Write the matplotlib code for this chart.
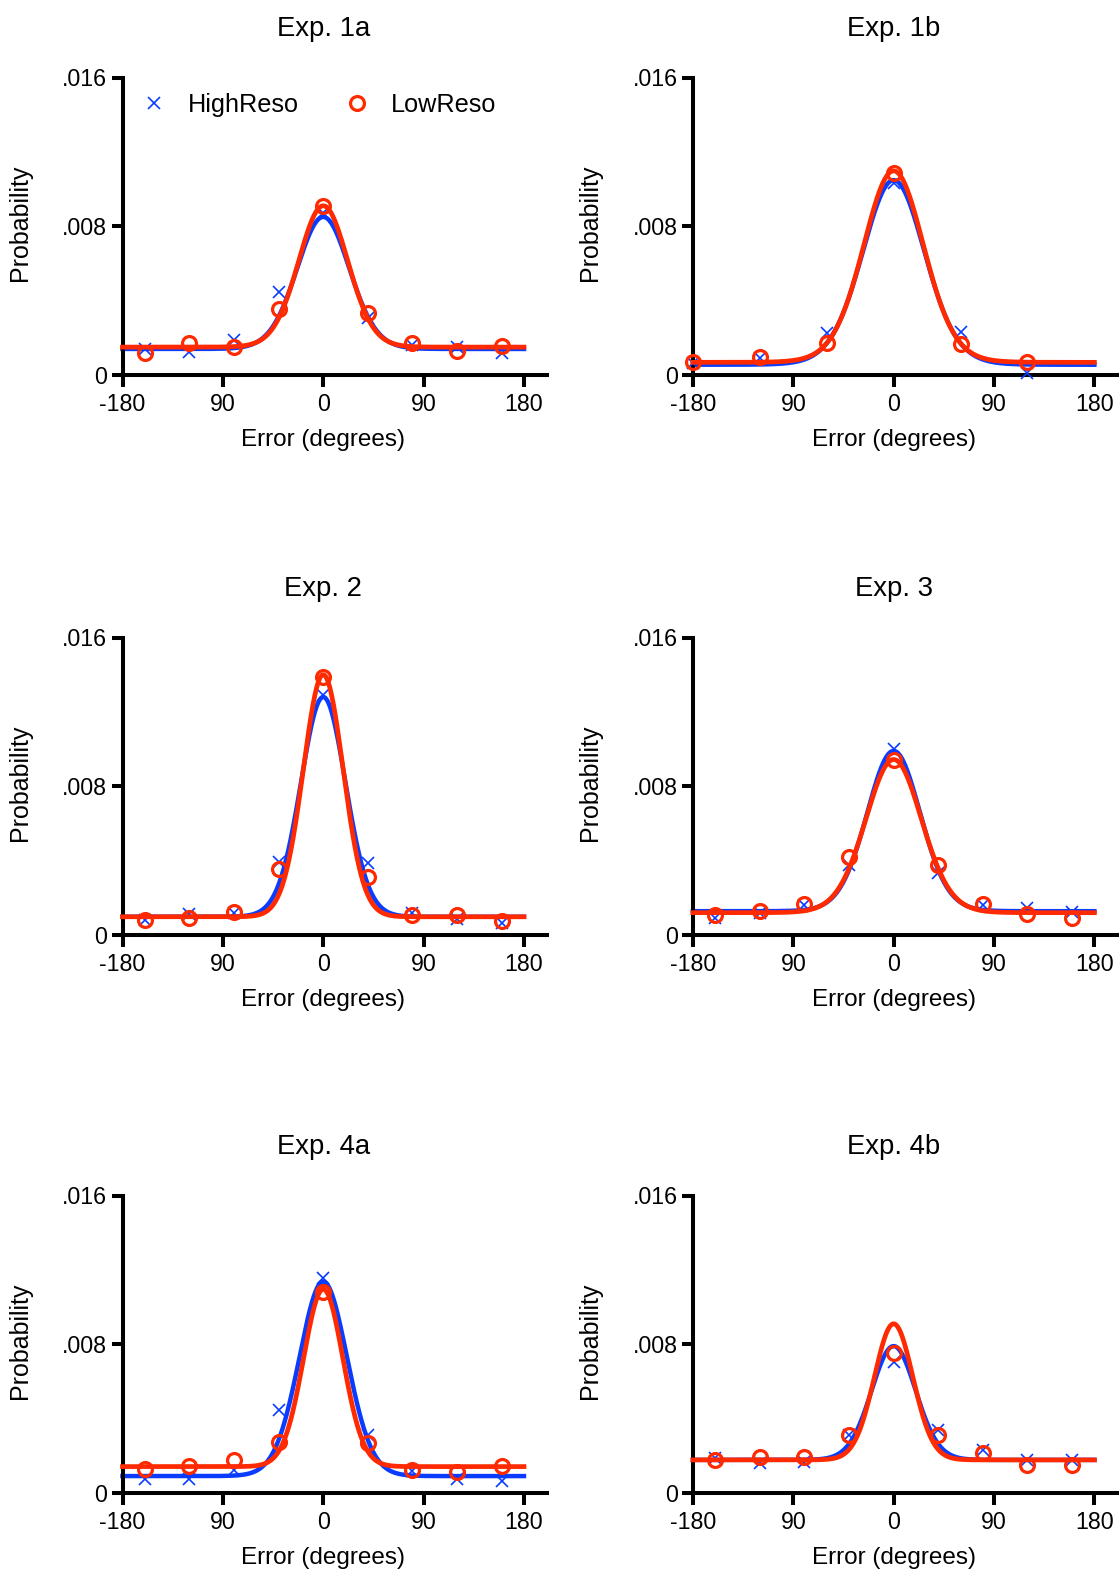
import numpy as np
import matplotlib
matplotlib.use("Agg")
import matplotlib.pyplot as plt

plt.rcParams['font.family'] = ['Liberation Sans', 'DejaVu Sans']

# ---------------- data ----------------
titles = ["Exp. 1a", "Exp. 1b", "Exp. 2", "Exp. 3", "Exp. 4a", "Exp. 4b"]

bins9 = [-160, -120, -80, -40, 0, 40, 80, 120, 160]
bins6 = [-180, -120, -60, 0, 60, 120]

high_1a = [0.0014, 0.00125, 0.00188, 0.00448, 0.0087, 0.00305, 0.00161, 0.00152, 0.0012]
low_1a = [0.0012, 0.0017, 0.00152, 0.00356, 0.00908, 0.00331, 0.0017, 0.00129, 0.00156]

high_1b = [0.00063, 0.0009, 0.00225, 0.0103, 0.0023, 0.00013]
low_1b = [0.00072, 0.00099, 0.00174, 0.01088, 0.00168, 0.00068]

high_2 = [0.00081, 0.00111, 0.00116, 0.00394, 0.0129, 0.00385, 0.0012, 0.00084, 0.00066]
low_2 = [0.00081, 0.00093, 0.00122, 0.00353, 0.0139, 0.0031, 0.00108, 0.00108, 0.00077]

high_3 = [0.0009, 0.00116, 0.00161, 0.00376, 0.0100, 0.00332, 0.00161, 0.00143, 0.00125]
low_3 = [0.00108, 0.00131, 0.00165, 0.00421, 0.0094, 0.00376, 0.00165, 0.00111, 0.0009]

high_4a = [0.00075, 0.00075, 0.00124, 0.00447, 0.01155, 0.0031, 0.00117, 0.00075, 0.00063]
low_4a = [0.00129, 0.00147, 0.00178, 0.00276, 0.01083, 0.00271, 0.00126, 0.00113, 0.00147]

high_4b = [0.00188, 0.00161, 0.00168, 0.0031, 0.00707, 0.00339, 0.0023, 0.00179, 0.00179]
low_4b = [0.00179, 0.00192, 0.00195, 0.00312, 0.00752, 0.00312, 0.00214, 0.00152, 0.00152]

# fitted model parameters (baseline, peak, von Mises concentration)
fit_high = [(0.00140, 0.0085, 6.0), (0.00055, 0.01048, 4.3), (0.00098, 0.0128, 8.2),
            (0.00128, 0.0099, 5.8), (0.00091, 0.01137, 7.2), (0.00178, 0.0079, 8.4)]
fit_low = [(0.00150, 0.0091, 6.8), (0.00068, 0.01098, 4.6), (0.00098, 0.0140, 10.3),
           (0.00120, 0.00944, 5.3), (0.00142, 0.01096, 10.5), (0.00178, 0.0091, 11.0)]

xs_list = [bins9, bins6, bins9, bins9, bins9, bins9]
high_list = [high_1a, high_1b, high_2, high_3, high_4a, high_4b]
low_list = [low_1a, low_1b, low_2, low_3, low_4a, low_4b]

xticks = [-180, -90, 0, 90, 180]
xticklabels = ["-180", "90", "0", "90", "180"]
yticks = [0, 0.008, 0.016]
yticklabels = ["0", ".008", ".016"]

BLUE = "#0a3cff"
RED = "#ff2a00"

W, H = 1119, 1573
fig = plt.figure(figsize=(W / 100, H / 100), dpi=100)

col_left = [122.5, 692.9]
row_y0 = [375, 935, 1493]
ax_w = 424
ax_h = 297.5


def model(theta_deg, base, peak, k):
    t = np.deg2rad(theta_deg)
    return base + (peak - base) * np.exp(k * (np.cos(t) - 1))


theta = np.linspace(-180, 180, 721)

for i in range(6):
    r, c = divmod(i, 2)
    left = col_left[c] / W
    bottom = (H - row_y0[r]) / H
    ax = fig.add_axes([left, bottom, ax_w / W, ax_h / H])
    ax.set_xlim(-180, 200.2)
    ax.set_ylim(0, 0.016)

    bh = fit_high[i]
    bl = fit_low[i]
    ax.plot(theta, model(theta, *bh), color=BLUE, lw=3.2, zorder=2, clip_on=False)
    ax.plot(xs_list[i], high_list[i], ls='none', marker='x', ms=8.5, mew=1.2,
            color=BLUE, zorder=3, clip_on=False, label="HighReso")
    ax.plot(theta, model(theta, *bl), color=RED, lw=3.4, zorder=4, clip_on=False)
    ax.plot(xs_list[i], low_list[i], ls='none', marker='o', ms=10, mew=2.3,
            mfc='none', mec=RED, zorder=5, clip_on=False, label="LowReso")

    for s in ['top', 'right']:
        ax.spines[s].set_visible(False)
    for s in ['left', 'bottom']:
        ax.spines[s].set_linewidth(2.9)
    ax.set_xticks(xticks)
    ax.set_xticklabels(xticklabels)
    ax.set_yticks(yticks)
    ax.set_yticklabels(yticklabels)
    ax.tick_params(axis='x', length=8.4, width=2.9, pad=4.5, labelsize=16.7)
    ax.tick_params(axis='y', length=8, width=2.9, pad=3.0, labelsize=16.7)

    # title centred over x = 0
    ax.text(0, 1 + 41 / ax_h, titles[i], transform=ax.get_xaxis_transform(),
            ha='center', va='baseline', fontsize=19.8)
    ax.text(0, -70.7 / ax_h, "Error (degrees)", transform=ax.get_xaxis_transform(),
            ha='center', va='baseline', fontsize=17.5)
    ax.text(-102.7 / ax_w, 0.51, "Probability", transform=ax.transAxes,
            rotation=90, ha='center', va='center', fontsize=18)

    if i == 0:
        ax.legend(loc='center left',
                  bbox_to_anchor=((141 - 122.5) / ax_w, (375 - 105) / ax_h),
                  ncol=2, frameon=False, fontsize=18.2, handlelength=1.0,
                  handletextpad=0.84, columnspacing=1.8, borderpad=0,
                  borderaxespad=0)

fig.savefig("out.png", dpi=100)
